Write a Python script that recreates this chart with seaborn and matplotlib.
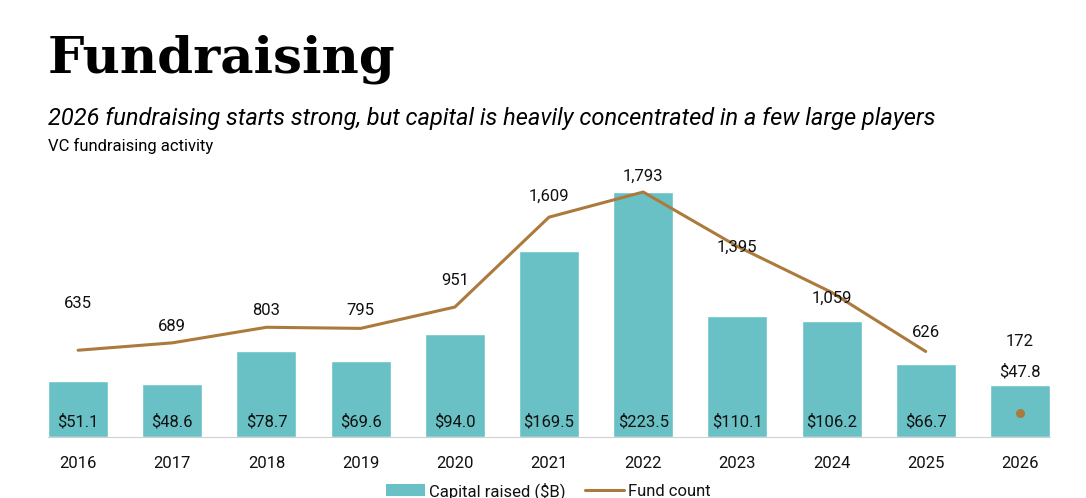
import numpy as np
import pandas as pd
import matplotlib.pyplot as plt
import seaborn as sns
from matplotlib.patches import Patch
from matplotlib.lines import Line2D

# Data
years = ['2016', '2017', '2018', '2019', '2020', '2021', '2022', '2023', '2024', '2025', '2026']
capital_raised = [51.1, 48.6, 78.7, 69.6, 94.0, 169.5, 223.5, 110.1, 106.2, 66.7, 47.8]
fund_count = [635, 689, 803, 795, 951, 1609, 1793, 1395, 1059, 626, 172]

# 2026 is a partial year: shown as a dot, not joined to the line
full_years = 10

bar_color = '#69c1c5'
line_color = '#ab7a3c'
text_color = '#111111'

sns.set_style('white')
plt.rcParams['font.family'] = ['Roboto', 'DejaVu Sans']
plt.rcParams['text.color'] = text_color

df = pd.DataFrame({'year': years, 'capital': capital_raised, 'funds': fund_count})

fig = plt.figure(figsize=(10.86, 4.98), dpi=100)
ax = fig.add_axes([48 / 1086, 1 - 437 / 498, 1002 / 1086, 277 / 498])

sns.barplot(data=df, x='year', y='capital', color=bar_color, width=0.637,
            saturation=1, ax=ax)
ax.set_xlim(-0.32, 10.32)
ymax = 252.7
ax.set_ylim(0, ymax)

# Capital labels: inside the bar bottom, except the partial year goes on top
for i, v in enumerate(capital_raised):
    if i < full_years:
        ax.annotate(f'${v:.1f}', (i, 0), xytext=(0, 10.8), textcoords='offset points',
                    ha='center', va='center', fontsize=12, color=text_color)
    else:
        ax.annotate(f'${v:.1f}', (i, v), xytext=(0, 9), textcoords='offset points',
                    ha='center', va='center', fontsize=12, color=text_color)

ax2 = ax.twinx()
line_df = df.iloc[:full_years].copy()
line_df['pos'] = np.arange(full_years)
sns.lineplot(data=line_df, x='pos', y='funds', color=line_color, linewidth=2.2, ax=ax2)
ax2.scatter([full_years], [fund_count[full_years]], color=line_color, s=30, zorder=5)
ax2.set_ylim(0, ymax * 1793 / 223.5)

# Fund count labels (offsets in points, as placed on the original)
label_offsets = [34, 12, 12, 13, 19, 15, 11, -1, -4, 14, 52]
for i, v in enumerate(fund_count):
    ax2.annotate(f'{v:,}', (i, v), xytext=(0, label_offsets[i]), textcoords='offset points',
                 ha='center', va='center', fontsize=12, color=text_color)

for a in (ax, ax2):
    a.set_xlabel('')
    a.set_ylabel('')
    a.set_yticks([])
    for s in ['top', 'left', 'right']:
        a.spines[s].set_visible(False)
ax2.spines['bottom'].set_visible(False)
ax.spines['bottom'].set_color('#d0d0d0')
ax.tick_params(axis='x', length=0, pad=13.5, labelsize=12, labelcolor=text_color)

fig.text(48 / 1086, 1 - 72 / 498, 'Fundraising', family='DejaVu Serif', fontweight='bold',
         fontsize=37, va='baseline', ha='left', color='black')
fig.text(48 / 1086, 1 - 125 / 498,
         '2026 fundraising starts strong, but capital is heavily concentrated in a few large players',
         fontsize=17, style='italic', va='baseline', ha='left', color='black')
fig.text(48 / 1086, 1 - 151 / 498, 'VC fundraising activity', fontsize=12, va='baseline',
         ha='left', color='black')

handles = [Patch(facecolor=bar_color, edgecolor='none'),
           Line2D([0], [0], color=line_color, linewidth=2.2)]
fig.legend(handles, ['Capital raised ($B)', 'Fund count'], loc='center',
           bbox_to_anchor=(0.505, 1 - 491 / 498), ncol=2, frameon=False, fontsize=12,
           handlelength=2.3, columnspacing=1.2, handletextpad=0.25,
           labelcolor=text_color)

fig.savefig('out.png', dpi=100)
